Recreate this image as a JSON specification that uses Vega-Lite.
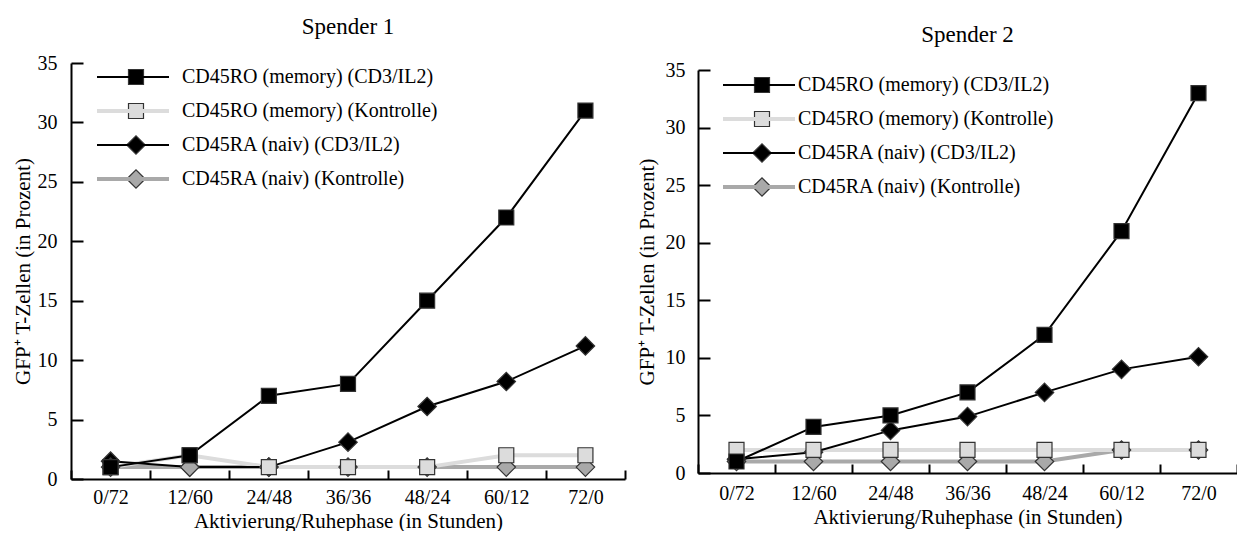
{
  "$schema": "https://vega.github.io/schema/vega-lite/v6.json",
  "padding": {"left": 12, "top": 16, "right": 0, "bottom": 0},
  "background": "white",
  "config": {
    "view": {"stroke": null},
    "font": "Liberation Serif",
    "axis": {
      "labelFont": "Liberation Serif", "titleFont": "Liberation Serif",
      "labelFontSize": 20, "titleFontSize": 21, "titleFontWeight": "normal",
      "labelColor": "black", "titleColor": "black",
      "domainColor": "black", "domainWidth": 2, "tickColor": "black", "tickWidth": 2, "grid": false
    },
    "title": {"font": "Liberation Serif", "fontSize": 23, "fontWeight": "normal", "color": "black"},
    "legend": {"labelFont": "Liberation Serif", "labelFontSize": 20, "labelColor": "black", "labelLimit": 0}
  },
  "datasets": {
    "s1": [
      {"series": "CD45RA (naiv) (CD3/IL2)", "time": "0/72", "value": 1.5},
      {"series": "CD45RA (naiv) (CD3/IL2)", "time": "12/60", "value": 1},
      {"series": "CD45RA (naiv) (CD3/IL2)", "time": "24/48", "value": 1},
      {"series": "CD45RA (naiv) (CD3/IL2)", "time": "36/36", "value": 3.1},
      {"series": "CD45RA (naiv) (CD3/IL2)", "time": "48/24", "value": 6.1},
      {"series": "CD45RA (naiv) (CD3/IL2)", "time": "60/12", "value": 8.2},
      {"series": "CD45RA (naiv) (CD3/IL2)", "time": "72/0", "value": 11.2},
      {"series": "CD45RA (naiv) (Kontrolle)", "time": "0/72", "value": 1},
      {"series": "CD45RA (naiv) (Kontrolle)", "time": "12/60", "value": 1},
      {"series": "CD45RA (naiv) (Kontrolle)", "time": "24/48", "value": 1},
      {"series": "CD45RA (naiv) (Kontrolle)", "time": "36/36", "value": 1},
      {"series": "CD45RA (naiv) (Kontrolle)", "time": "48/24", "value": 1},
      {"series": "CD45RA (naiv) (Kontrolle)", "time": "60/12", "value": 1},
      {"series": "CD45RA (naiv) (Kontrolle)", "time": "72/0", "value": 1},
      {"series": "CD45RO (memory) (Kontrolle)", "time": "0/72", "value": 1},
      {"series": "CD45RO (memory) (Kontrolle)", "time": "12/60", "value": 2},
      {"series": "CD45RO (memory) (Kontrolle)", "time": "24/48", "value": 1},
      {"series": "CD45RO (memory) (Kontrolle)", "time": "36/36", "value": 1},
      {"series": "CD45RO (memory) (Kontrolle)", "time": "48/24", "value": 1},
      {"series": "CD45RO (memory) (Kontrolle)", "time": "60/12", "value": 2},
      {"series": "CD45RO (memory) (Kontrolle)", "time": "72/0", "value": 2},
      {"series": "CD45RO (memory) (CD3/IL2)", "time": "0/72", "value": 1},
      {"series": "CD45RO (memory) (CD3/IL2)", "time": "12/60", "value": 2},
      {"series": "CD45RO (memory) (CD3/IL2)", "time": "24/48", "value": 7},
      {"series": "CD45RO (memory) (CD3/IL2)", "time": "36/36", "value": 8},
      {"series": "CD45RO (memory) (CD3/IL2)", "time": "48/24", "value": 15},
      {"series": "CD45RO (memory) (CD3/IL2)", "time": "60/12", "value": 22},
      {"series": "CD45RO (memory) (CD3/IL2)", "time": "72/0", "value": 31}
    ],
    "s2": [
      {"series": "CD45RA (naiv) (CD3/IL2)", "time": "0/72", "value": 1.2},
      {"series": "CD45RA (naiv) (CD3/IL2)", "time": "12/60", "value": 1.8},
      {"series": "CD45RA (naiv) (CD3/IL2)", "time": "24/48", "value": 3.7},
      {"series": "CD45RA (naiv) (CD3/IL2)", "time": "36/36", "value": 4.9},
      {"series": "CD45RA (naiv) (CD3/IL2)", "time": "48/24", "value": 7},
      {"series": "CD45RA (naiv) (CD3/IL2)", "time": "60/12", "value": 9},
      {"series": "CD45RA (naiv) (CD3/IL2)", "time": "72/0", "value": 10.1},
      {"series": "CD45RA (naiv) (Kontrolle)", "time": "0/72", "value": 1},
      {"series": "CD45RA (naiv) (Kontrolle)", "time": "12/60", "value": 1},
      {"series": "CD45RA (naiv) (Kontrolle)", "time": "24/48", "value": 1},
      {"series": "CD45RA (naiv) (Kontrolle)", "time": "36/36", "value": 1},
      {"series": "CD45RA (naiv) (Kontrolle)", "time": "48/24", "value": 1},
      {"series": "CD45RA (naiv) (Kontrolle)", "time": "60/12", "value": 2},
      {"series": "CD45RA (naiv) (Kontrolle)", "time": "72/0", "value": 2},
      {"series": "CD45RO (memory) (Kontrolle)", "time": "0/72", "value": 2},
      {"series": "CD45RO (memory) (Kontrolle)", "time": "12/60", "value": 2},
      {"series": "CD45RO (memory) (Kontrolle)", "time": "24/48", "value": 2},
      {"series": "CD45RO (memory) (Kontrolle)", "time": "36/36", "value": 2},
      {"series": "CD45RO (memory) (Kontrolle)", "time": "48/24", "value": 2},
      {"series": "CD45RO (memory) (Kontrolle)", "time": "60/12", "value": 2},
      {"series": "CD45RO (memory) (Kontrolle)", "time": "72/0", "value": 2},
      {"series": "CD45RO (memory) (CD3/IL2)", "time": "0/72", "value": 1},
      {"series": "CD45RO (memory) (CD3/IL2)", "time": "12/60", "value": 4},
      {"series": "CD45RO (memory) (CD3/IL2)", "time": "24/48", "value": 5},
      {"series": "CD45RO (memory) (CD3/IL2)", "time": "36/36", "value": 7},
      {"series": "CD45RO (memory) (CD3/IL2)", "time": "48/24", "value": 12},
      {"series": "CD45RO (memory) (CD3/IL2)", "time": "60/12", "value": 21},
      {"series": "CD45RO (memory) (CD3/IL2)", "time": "72/0", "value": 33}
    ]
  },
  "hconcat": [
    {
      "title": {"text": "Spender 1", "offset": 14},
      "width": 554,
      "height": 416,
      "data": {"name": "s1"},
      "encoding": {
        "x": {"field": "time", "type": "ordinal", "sort": ["0/72", "12/60", "24/48", "36/36", "48/24", "60/12", "72/0"], "bandPosition": 0.5,
          "scale": {"type": "band", "paddingInner": 0, "paddingOuter": 0},
          "axis": {"title": "Aktivierung/Ruhephase (in Stunden)", "labelAngle": 0, "tickBand": "extent", "tickSize": -9, "labelPadding": 17, "titlePadding": 3}},
        "y": {"field": "value", "type": "quantitative", "scale": {"domain": [0, 35], "nice": false, "zero": true},
          "axis": {"title": "GFP⁺ T-Zellen (in Prozent)", "values": [0, 5, 10, 15, 20, 25, 30, 35], "tickSize": -12, "labelPadding": 26, "titlePadding": 4}}
      },
      "layer": [
        {
          "transform": [{"filter": "test(/Kontrolle/, datum.series)"}],
          "mark": {"type": "line", "strokeWidth": 4},
          "encoding": {
            "stroke": {"field": "series", "type": "nominal",
              "scale": {"domain": ["CD45RO (memory) (CD3/IL2)", "CD45RO (memory) (Kontrolle)", "CD45RA (naiv) (CD3/IL2)", "CD45RA (naiv) (Kontrolle)"], "range": ["black", "#dcdcdc", "black", "#a9a9a9"]},
              "legend": {"orient": "none", "legendX": 52, "legendY": 4, "title": null, "symbolType": "stroke", "symbolSize": 5184, "symbolStrokeWidth": 2, "labelOffset": 39, "rowPadding": 14, "labelFont": "Liberation Serif",
                "encode": {"symbols": {"update": {"strokeWidth": {"signal": "test(/Kontrolle/, datum.value) ? 4 : 2"}}}}}}
          }
        },
        {
          "transform": [{"filter": "test(/CD3/, datum.series)"}],
          "mark": {"type": "line", "strokeWidth": 2},
          "encoding": {
            "stroke": {"field": "series", "type": "nominal", "legend": null,
              "scale": {"domain": ["CD45RO (memory) (CD3/IL2)", "CD45RO (memory) (Kontrolle)", "CD45RA (naiv) (CD3/IL2)", "CD45RA (naiv) (Kontrolle)"], "range": ["black", "#dcdcdc", "black", "#a9a9a9"]}}
          }
        },
        {
          "mark": {"type": "point", "filled": true, "strokeWidth": 1.2, "stroke": "#333333", "opacity": 1},
          "encoding": {
            "shape": {"field": "series", "type": "nominal",
              "scale": {"domain": ["CD45RO (memory) (CD3/IL2)", "CD45RO (memory) (Kontrolle)", "CD45RA (naiv) (CD3/IL2)", "CD45RA (naiv) (Kontrolle)", "~"], "range": ["square", "square", "diamond", "diamond", "circle"]},
              "legend": {"orient": "none", "legendX": 52, "legendY": 1, "title": null, "labelOffset": 39, "rowPadding": 8, "labelFontSize": 26, "labelOpacity": 0, "labelExpr": "' '", "symbolStrokeWidth": 1.2, "symbolOpacity": 1, "symbolStrokeColor": "#333333"}},
            "fill": {"field": "series", "type": "nominal",
              "scale": {"domain": ["CD45RO (memory) (CD3/IL2)", "CD45RO (memory) (Kontrolle)", "CD45RA (naiv) (CD3/IL2)", "CD45RA (naiv) (Kontrolle)", "~"], "range": ["black", "#dcdcdc", "black", "#a9a9a9", "transparent"]}},
            "size": {"field": "series", "type": "nominal",
              "scale": {"type": "ordinal", "domain": ["CD45RO (memory) (CD3/IL2)", "CD45RO (memory) (Kontrolle)", "CD45RA (naiv) (CD3/IL2)", "CD45RA (naiv) (Kontrolle)", "~"], "range": [225, 225, 340, 340, 0]}}
          }
        }
      ],
      "resolve": {"scale": {"stroke": "independent"}, "legend": {"stroke": "independent"}}
    },
    {
      "title": {"text": "Spender 2", "offset": 13},
      "width": 539,
      "height": 410,
      "data": {"name": "s2"},
      "encoding": {
        "x": {"field": "time", "type": "ordinal", "sort": ["0/72", "12/60", "24/48", "36/36", "48/24", "60/12", "72/0"], "bandPosition": 0.5,
          "scale": {"type": "band", "paddingInner": 0, "paddingOuter": 0},
          "axis": {"title": "Aktivierung/Ruhephase (in Stunden)", "labelAngle": 0, "tickBand": "extent", "tickSize": -9, "labelPadding": 19, "titlePadding": 3}},
        "y": {"field": "value", "type": "quantitative", "scale": {"domain": [0, 35], "nice": false, "zero": true, "range": [410, 7]},
          "axis": {"title": "GFP⁺ T-Zellen (in Prozent)", "values": [0, 5, 10, 15, 20, 25, 30, 35], "tickSize": -12, "labelPadding": 25, "titlePadding": 8}}
      },
      "layer": [
        {
          "transform": [{"filter": "test(/Kontrolle/, datum.series)"}],
          "mark": {"type": "line", "strokeWidth": 4},
          "encoding": {
            "stroke": {"field": "series", "type": "nominal",
              "scale": {"domain": ["CD45RO (memory) (CD3/IL2)", "CD45RO (memory) (Kontrolle)", "CD45RA (naiv) (CD3/IL2)", "CD45RA (naiv) (Kontrolle)"], "range": ["black", "#dcdcdc", "black", "#a9a9a9"]},
              "legend": {"orient": "none", "legendX": 51, "legendY": 12, "title": null, "symbolType": "stroke", "symbolSize": 5184, "symbolStrokeWidth": 2, "labelOffset": 29, "rowPadding": 14, "labelFont": "Liberation Serif",
                "encode": {"symbols": {"update": {"strokeWidth": {"signal": "test(/Kontrolle/, datum.value) ? 4 : 2"}}}}}}
          }
        },
        {
          "transform": [{"filter": "test(/CD3/, datum.series)"}],
          "mark": {"type": "line", "strokeWidth": 2},
          "encoding": {
            "stroke": {"field": "series", "type": "nominal", "legend": null,
              "scale": {"domain": ["CD45RO (memory) (CD3/IL2)", "CD45RO (memory) (Kontrolle)", "CD45RA (naiv) (CD3/IL2)", "CD45RA (naiv) (Kontrolle)"], "range": ["black", "#dcdcdc", "black", "#a9a9a9"]}}
          }
        },
        {
          "mark": {"type": "point", "filled": true, "strokeWidth": 1.2, "stroke": "#333333", "opacity": 1},
          "encoding": {
            "shape": {"field": "series", "type": "nominal",
              "scale": {"domain": ["CD45RO (memory) (CD3/IL2)", "CD45RO (memory) (Kontrolle)", "CD45RA (naiv) (CD3/IL2)", "CD45RA (naiv) (Kontrolle)", "~"], "range": ["square", "square", "diamond", "diamond", "circle"]},
              "legend": {"orient": "none", "legendX": 51, "legendY": 9, "title": null, "labelOffset": 29, "rowPadding": 8, "labelFontSize": 26, "labelOpacity": 0, "labelExpr": "' '", "symbolStrokeWidth": 1.2, "symbolOpacity": 1, "symbolStrokeColor": "#333333"}},
            "fill": {"field": "series", "type": "nominal",
              "scale": {"domain": ["CD45RO (memory) (CD3/IL2)", "CD45RO (memory) (Kontrolle)", "CD45RA (naiv) (CD3/IL2)", "CD45RA (naiv) (Kontrolle)", "~"], "range": ["black", "#dcdcdc", "black", "#a9a9a9", "transparent"]}},
            "size": {"field": "series", "type": "nominal",
              "scale": {"type": "ordinal", "domain": ["CD45RO (memory) (CD3/IL2)", "CD45RO (memory) (Kontrolle)", "CD45RA (naiv) (CD3/IL2)", "CD45RA (naiv) (Kontrolle)", "~"], "range": [225, 225, 340, 340, 0]}}
          }
        }
      ],
      "resolve": {"scale": {"stroke": "independent"}, "legend": {"stroke": "independent"}}
    }
  ],
  "spacing": 10,
  "resolve": {"scale": {"x": "independent", "y": "independent", "stroke": "independent", "fill": "independent", "shape": "independent", "size": "independent"}, "legend": {"stroke": "independent", "fill": "independent", "shape": "independent", "size": "independent"}}
}
